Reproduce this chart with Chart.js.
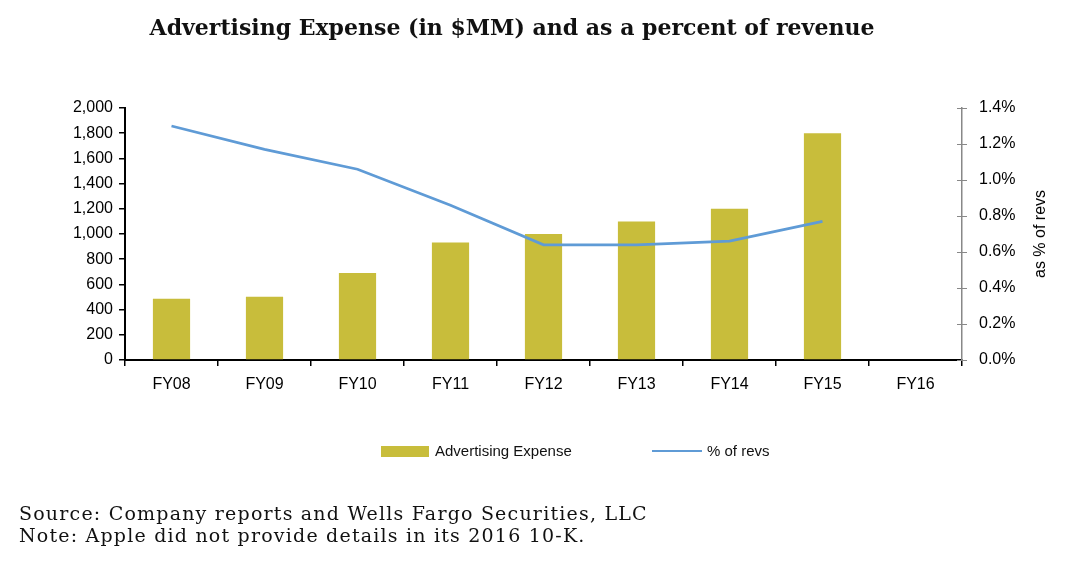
<!DOCTYPE html>
<html>
<head>
<meta charset="utf-8">
<script src="https://cdn.jsdelivr.net/npm/chart.js@4/dist/chart.umd.min.js"></script>
<style>
  html, body { margin: 0; padding: 0; background: #fff; }
  #wrap { position: relative; width: 1069px; height: 561px; overflow: hidden; }
  #c { position: absolute; left: 0; top: 0; }
  .title { position: absolute; left: 0; width: 1024px; top: 14px; text-align: center;
    font-family: "DejaVu Serif", serif; font-weight: bold; font-size: 22px; color: #111; letter-spacing: 0px; }
  .note { position: absolute; left: 19px; font-family: "DejaVu Serif", serif;
    font-size: 19px; color: #111; letter-spacing: 1.2px; line-height: 22px; }
  .leg { position: absolute; font-family: "Liberation Sans", Arial, sans-serif; font-size: 15px; color: #111; }
  .sw { position: absolute; }
  .ytitle { position: absolute; left: 1040px; top: 234px; transform: translate(-50%, -50%) rotate(-90deg);
    white-space: nowrap; font-family: "Liberation Sans", Arial, sans-serif; font-size: 16px; color: #000; }
</style>
</head>
<body>
<div id="wrap">
  <canvas id="c" width="1069" height="561"></canvas>
  <div class="title">Advertising Expense (in $MM) and as a percent of revenue</div>
  <div class="ytitle">as % of revs</div>
  <div class="sw" style="left:381px; top:446px; width:48px; height:11px; background:#c8bd3b;"></div>
  <div class="leg" style="left:435px; top:442px;">Advertising Expense</div>
  <div class="sw" style="left:652px; top:450px; width:50px; height:2px; background:#5f9bd6;"></div>
  <div class="leg" style="left:707px; top:442px;">% of revs</div>
  <div class="note" style="top:502px;">Source: Company reports and Wells Fargo Securities, LLC</div>
  <div class="note" style="top:524px;">Note: Apple did not provide details in its 2016 10-K.</div>
</div>
<script>
const categories = ["FY08", "FY09", "FY10", "FY11", "FY12", "FY13", "FY14", "FY15", "FY16"];
const adExpense = [486, 501, 691, 933, 1000, 1100, 1200, 1800, null];
const pctOfRevs = [1.30, 1.17, 1.06, 0.86, 0.64, 0.64, 0.66, 0.77, null];
const leftTicks = [0, 200, 400, 600, 800, 1000, 1200, 1400, 1600, 1800, 2000];
const rightTicks = [0.0, 0.2, 0.4, 0.6, 0.8, 1.0, 1.2, 1.4];

const crossTicks = {
  id: 'crossTicks',
  afterDraw(chart) {
    const s = chart.scales.y1;
    const ctx = chart.ctx;
    ctx.save();
    ctx.strokeStyle = '#888';
    ctx.lineWidth = 1;
    s.ticks.forEach(t => {
      const y = Math.round(s.getPixelForValue(t.value)) + 0.5;
      ctx.beginPath();
      ctx.moveTo(s.left - 5, y);
      ctx.lineTo(s.left + 5, y);
      ctx.stroke();
    });
    ctx.restore();
  }
};

new Chart(document.getElementById('c'), {
  data: {
    labels: categories,
    datasets: [
      {
        type: 'line', label: '% of revs', data: pctOfRevs, yAxisID: 'y1',
        borderColor: '#5f9bd6', borderWidth: 2.75, pointRadius: 0, tension: 0, order: 0
      },
      {
        type: 'bar', label: 'Advertising Expense', data: adExpense, yAxisID: 'y',
        backgroundColor: '#c8bd3b', barPercentage: 0.4, categoryPercentage: 1.0, order: 1
      }
    ]
  },
  options: {
    responsive: false,
    animation: false,
    devicePixelRatio: 1,
    layout: { padding: { left: 0, right: 0, top: 108, bottom: 161 } },
    plugins: { legend: { display: false }, tooltip: { enabled: false }, title: { display: false } },
    scales: {
      x: {
        offset: true,
        grid: { display: true, offset: true, drawOnChartArea: false, drawTicks: true, tickLength: 6, color: '#000', lineWidth: 1.5 },
        border: { display: true, color: '#000', width: 2 },
        ticks: { color: '#000', font: { family: 'Liberation Sans', size: 16 }, padding: 9, maxRotation: 0 },
        afterFit(s) { s.height = 40; }
      },
      y: {
        position: 'left', min: 0, max: 2000,
        afterBuildTicks(s) { s.ticks = leftTicks.map(v => ({ value: v })); },
        grid: { drawOnChartArea: false, drawTicks: true, tickLength: 6, color: '#000', lineWidth: 1.5 },
        border: { display: true, color: '#000', width: 2 },
        ticks: { color: '#000', font: { family: 'Liberation Sans', size: 16 }, padding: 6,
          callback: v => v.toLocaleString('en-US') },
        afterFit(s) { s.width = 125; }
      },
      y1: {
        position: 'right', min: 0, max: 1.4,
        afterBuildTicks(s) { s.ticks = rightTicks.map(v => ({ value: v })); },
        grid: { drawOnChartArea: false, drawTicks: false },
        border: { display: true, color: '#888', width: 1.5 },
        ticks: { color: '#000', font: { family: 'Liberation Sans', size: 16 }, padding: 17,
          callback: v => v.toFixed(1) + '%' },
        afterFit(s) { s.width = 107; }
      }
    }
  },
  plugins: [crossTicks]
});
</script>
</body>
</html>
